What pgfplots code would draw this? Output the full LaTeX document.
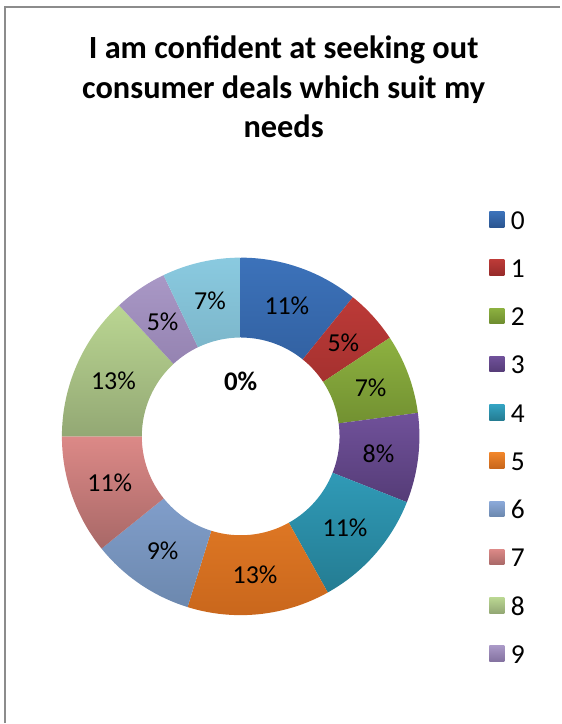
\documentclass[border=0pt]{standalone}
\usepackage{pgfplots}
\pgfplotsset{compat=1.18}
\usepackage{pgfplotstable}
\usepackage{fontspec}
\setmainfont{Carlito}

\definecolor{t0}{HTML}{3C72BA}\definecolor{b0}{HTML}{2B5590}
\definecolor{t1}{HTML}{BC3A37}\definecolor{b1}{HTML}{962B2A}
\definecolor{t2}{HTML}{8DB140}\definecolor{b2}{HTML}{6E8C2F}
\definecolor{t3}{HTML}{70519A}\definecolor{b3}{HTML}{553C77}
\definecolor{t4}{HTML}{33A3C2}\definecolor{b4}{HTML}{247C92}
\definecolor{t5}{HTML}{F0852A}\definecolor{b5}{HTML}{C8661C}
\definecolor{t6}{HTML}{8CAADA}\definecolor{b6}{HTML}{6C88AE}
\definecolor{t7}{HTML}{DC8987}\definecolor{b7}{HTML}{A86867}
\definecolor{t8}{HTML}{BAD692}\definecolor{b8}{HTML}{93A874}
\definecolor{t9}{HTML}{A998C6}\definecolor{b9}{HTML}{8472A0}
\definecolor{t10}{HTML}{8ACAE0}\definecolor{b10}{HTML}{6EA3B5}

\pgfplotstableread{
cat val
0 10.8
1 4.9
2 7.2
3 8.1
4 10.9
5 12.9
6 9.4
7 10.8
8 13.1
9 4.8
10 7.1
}\piedata

\begin{document}
\begin{tikzpicture}
\xdef\cum{0}
\foreach \i in {0,...,10}{%
  \pgfplotstablegetelem{\i}{val}\of\piedata
  \let\v\pgfplotsretval
  \pgfmathsetmacro\sa{90-3.6*\cum}%
  \pgfmathsetmacro\ea{90-3.6*(\cum+\v)}%
  \pgfmathsetmacro\ma{(\sa+\ea)/2}%
  \expandafter\xdef\csname pieS\i\endcsname{\sa}%
  \expandafter\xdef\csname pieE\i\endcsname{\ea}%
  \expandafter\xdef\csname pieM\i\endcsname{\ma}%
  \expandafter\xdef\csname pieV\i\endcsname{\v}%
  \pgfmathsetmacro\nc{\cum+\v}%
  \xdef\cum{\nc}%
}
\begin{axis}[
  width=561bp, height=724bp, scale only axis,
  xmin=0, xmax=561, ymin=0, ymax=724,
  hide axis, clip=false,
  legend cell align=left,
  legend image code/.code={\shade[#1, draw=none] (0bp,-7bp) rectangle (15bp,8.5bp);},
  legend style={draw=none, fill=none, inner sep=0pt, outer sep=0pt,
    at={(0.87344,0.70787)}, anchor=north west,
    row sep=30.3bp,
    font=\fontsize{27.5}{30}\selectfont,
    nodes={inner sep=0pt, text height=18bp, text depth=0bp},
    /tikz/every odd column/.append style={column sep=6.5bp}},
]
\path (axis cs:0,0) (axis cs:561,724);
\draw[color=black!45, line width=2bp] (axis cs:5,0) -- (axis cs:5,717) -- (axis cs:561,717);
\node[align=center, font=\bfseries\fontsize{32.5}{40}\selectfont] at (axis cs:284,637)
  {I am confident at seeking out\\consumer deals which suit my\\needs};
\pgfplotsinvokeforeach{0,...,10}{
  \shade[top color=t#1, bottom color=b#1]
    (axis cs:241,287) ++(\csname pieS#1\endcsname:179bp)
    arc[start angle=\csname pieS#1\endcsname, end angle=\csname pieE#1\endcsname, radius=179bp]
    -- ++(\csname pieE#1\endcsname+180:80bp)
    arc[start angle=\csname pieE#1\endcsname, end angle=\csname pieS#1\endcsname, radius=99bp]
    -- cycle;
  \path (axis cs:241,287) ++(\csname pieM#1\endcsname:139bp)
    node[font=\fontsize{26}{30}\selectfont]
    {\pgfmathprintnumber[fixed,precision=0,assume math mode=true]{\csname pieV#1\endcsname}\%};
}
\path (axis cs:241,287) ++(90:55bp) node[font=\bfseries\fontsize{27}{30}\selectfont]{0\%};
\pgfplotsinvokeforeach{0,...,9}{
  \addlegendimage{top color=t#1, bottom color=b#1}
  \addlegendentry{#1}
}
\end{axis}
\end{tikzpicture}
\end{document}
